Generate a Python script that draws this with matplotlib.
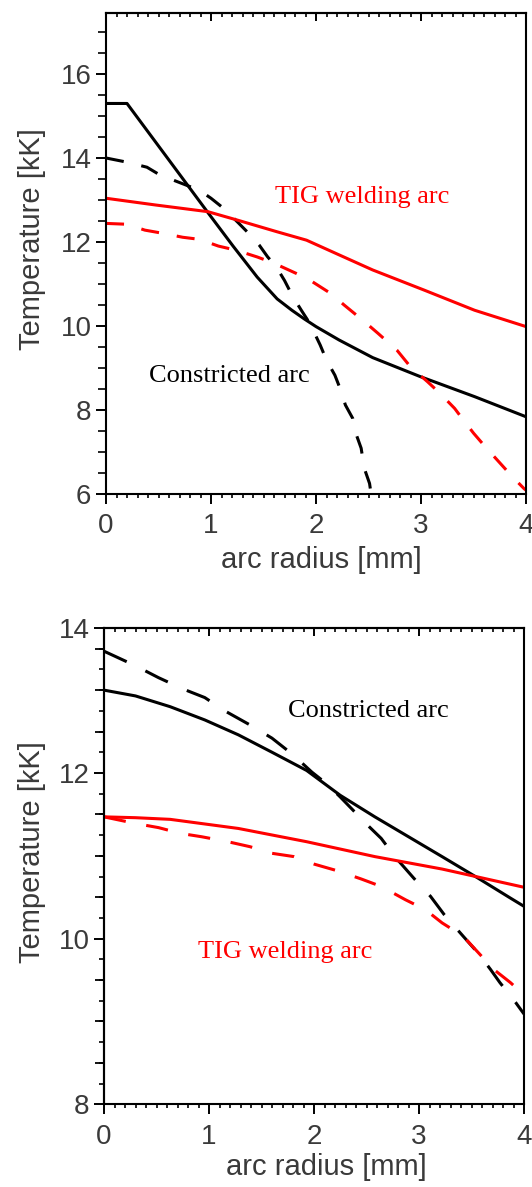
import matplotlib
matplotlib.use("Agg")
import matplotlib.pyplot as plt
from matplotlib.ticker import MultipleLocator, FixedLocator, FixedFormatter, NullFormatter

plt.rcParams["lines.scale_dashes"] = False
plt.rcParams["font.family"] = ["Liberation Sans", "DejaVu Sans"]

# ---------------- data: top panel ----------------
top_bs_r = [0, 0.2, 0.97, 1.21, 1.44, 1.63, 1.77, 1.89, 2.0, 2.22, 2.54, 2.99, 3.51, 4.0]
top_bs_T = [15.3, 15.3, 12.7, 11.9, 11.16, 10.64, 10.37, 10.16, 9.98, 9.66, 9.24, 8.79, 8.31, 7.83]

top_bd_r = [0, 0.2, 0.39, 0.51, 0.89, 1.0, 1.12, 1.25, 1.36, 1.46, 1.54, 1.62, 1.70,
            1.78, 1.86, 1.94, 2.04, 2.10, 2.18, 2.23, 2.28, 2.35, 2.38, 2.43, 2.46, 2.51, 2.53]
top_bd_T = [14.0, 13.9, 13.78, 13.6, 13.23, 13.04, 12.8, 12.48, 12.2, 11.92, 11.64, 11.41, 11.08,
            10.69, 10.37, 10.06, 9.54, 9.18, 8.82, 8.5, 8.11, 7.79, 7.43, 7.08, 6.6, 6.24, 5.9]

top_rs_r = [0, 0.47, 0.97, 1.25, 1.63, 1.91, 2.22, 2.54, 3.03, 3.51, 4.0]
top_rs_T = [13.04, 12.88, 12.72, 12.52, 12.24, 12.04, 11.69, 11.33, 10.85, 10.37, 9.98]

top_rd_r = [0, 0.2, 0.37, 0.55, 0.73, 0.89, 1.07, 1.24, 1.44, 1.6, 1.81, 1.94, 2.14, 2.27,
            2.46, 2.59, 2.77, 2.9, 3.06, 3.18, 3.32, 3.38, 3.5, 3.61, 3.74, 3.87, 3.98, 4.0]
top_rd_T = [12.44, 12.42, 12.28, 12.2, 12.11, 12.06, 11.9, 11.8, 11.64, 11.49, 11.25, 11.09, 10.77, 10.49,
            10.1, 9.82, 9.42, 9.02, 8.67, 8.39, 8.03, 7.83, 7.44, 7.12, 6.76, 6.4, 6.12, 6.08]

# ---------------- data: bottom panel ----------------
bot_bs_r = [0, 0.3, 0.63, 0.96, 1.28, 1.6, 1.93, 2.25, 2.58, 2.9, 3.22, 3.55, 3.87, 4.0]
bot_bs_T = [13.0, 12.93, 12.8, 12.64, 12.46, 12.25, 12.03, 11.73, 11.47, 11.23, 10.99, 10.74, 10.49, 10.39]

bot_bd_r = [0, 0.29, 0.52, 0.76, 0.96, 1.15, 1.39, 1.6, 1.8, 1.98, 2.12, 2.25, 2.51, 2.64,
            2.77, 2.95, 3.11, 3.24, 3.42, 3.56, 3.68, 3.77, 3.92, 4.0]
bot_bd_T = [13.47, 13.3, 13.15, 13.01, 12.91, 12.75, 12.58, 12.42, 12.22, 12.01, 11.87, 11.71, 11.37, 11.21,
            10.99, 10.73, 10.51, 10.29, 10.03, 9.83, 9.63, 9.47, 9.23, 9.09]

bot_rs_r = [0, 0.3, 0.63, 1.28, 1.93, 2.58, 3.22, 4.0]
bot_rs_T = [11.47, 11.46, 11.44, 11.33, 11.17, 10.99, 10.84, 10.62]

bot_rd_r = [0, 0.3, 0.52, 0.73, 0.93, 1.18, 1.39, 1.6, 1.81, 2.0, 2.22, 2.45, 2.64, 2.87,
            3.06, 3.22, 3.42, 3.58, 3.71, 3.87, 4.0]
bot_rd_T = [11.47, 11.39, 11.34, 11.27, 11.23, 11.17, 11.11, 11.03, 10.99, 10.9, 10.82, 10.72, 10.63, 10.47,
            10.35, 10.19, 10.03, 9.81, 9.63, 9.47, 9.32]

x_ticks = [0, 1, 2, 3, 4]
top_y_ticks = [6, 8, 10, 12, 14, 16]
bot_y_ticks = [8, 10, 12, 13.75]
bot_y_labels = ["8", "10", "12", "14"]
bot_y_mid = [8.5, 9, 9.5, 10.5, 11, 11.5, 12.5, 13, 13.5]

xlabel = "arc radius [mm]"
ylabel = "Temperature [kK]"
lab_tig = "TIG welding arc"
lab_con = "Constricted arc"

TXT = "#3a3a3a"
RED = "#ff0000"
LW = 2.2
SERIF = ["Liberation Serif", "DejaVu Serif"]

fig = plt.figure(figsize=(5.32, 11.87), dpi=100)
ax1 = fig.add_axes([106 / 532, 1 - 493.5 / 1187, 420 / 532, 480.2 / 1187])
ax2 = fig.add_axes([104 / 532, 1 - 1104.3 / 1187, 420 / 532, 476.3 / 1187])


def style(ax):
    for s in ax.spines.values():
        s.set_linewidth(1.5)
    ax.set_xlim(0, 4)
    ax.xaxis.set_major_locator(FixedLocator(x_ticks))
    ax.xaxis.set_minor_locator(MultipleLocator(0.1))
    ax.tick_params(axis="x", which="major", direction="out", length=7, width=1.4,
                   pad=7, labelsize=20, labelcolor=TXT)
    ax.tick_params(axis="x", which="minor", direction="out", length=3.2, width=1.2)
    ax.tick_params(axis="y", which="major", direction="out", length=7.5, width=1.4,
                   pad=3, labelsize=20, labelcolor=TXT)
    ax.tick_params(right=False, top=False)
    sec = ax.secondary_xaxis("top")
    sec.spines["top"].set_linewidth(1.5)
    sec.xaxis.set_major_locator(FixedLocator(x_ticks))
    sec.xaxis.set_minor_locator(MultipleLocator(0.1))
    sec.xaxis.set_major_formatter(NullFormatter())
    sec.tick_params(axis="x", which="major", direction="in", length=6, width=1.4)
    sec.tick_params(axis="x", which="minor", direction="in", length=3.2, width=1.2)


# ---------- top ----------
style(ax1)
ax1.set_ylim(6, 17.45)
ax1.yaxis.set_major_locator(FixedLocator(top_y_ticks))
ax1.yaxis.set_minor_locator(MultipleLocator(0.5))
ax1.tick_params(axis="y", which="minor", direction="out", length=5.5, width=1.2)
ax1.plot(top_bs_r, top_bs_T, color="black", lw=LW, solid_capstyle="butt")
ax1.plot(top_bd_r, top_bd_T, color="black", lw=LW, dashes=(13, 13), dash_capstyle="butt")
ax1.plot(top_rs_r, top_rs_T, color=RED, lw=LW)
ax1.plot(top_rd_r, top_rd_T, color=RED, lw=LW, dashes=(13, 13), dash_capstyle="butt")
ax1.text(1.614, 12.92, lab_tig, color=RED, fontsize=19, family=SERIF, ha="left", va="baseline")
ax1.text(0.406, 8.665, lab_con, color="black", fontsize=19, family=SERIF, ha="left", va="baseline")
ax1.set_xlabel(xlabel, fontsize=21, color=TXT, va="center")
ax1.xaxis.set_label_coords(0.512, -0.1385)
ax1.set_ylabel(ylabel, fontsize=21, color=TXT, va="center")
ax1.yaxis.set_label_coords(-0.176, 0.53)

# ---------- bottom ----------
style(ax2)
ax2.set_ylim(8, 13.75)
ax2.yaxis.set_major_locator(FixedLocator(bot_y_ticks))
ax2.yaxis.set_major_formatter(FixedFormatter(bot_y_labels))
ax2.yaxis.set_minor_locator(MultipleLocator(0.25))
ax2.tick_params(axis="y", which="minor", direction="out", length=3.5, width=1.2)
secy = ax2.secondary_yaxis("left")
secy.spines["left"].set_linewidth(1.5)
secy.yaxis.set_major_locator(FixedLocator(bot_y_mid))
secy.yaxis.set_major_formatter(NullFormatter())
secy.yaxis.set_minor_locator(FixedLocator([]))
secy.tick_params(axis="y", which="major", direction="out", length=6.5, width=1.3)

ax2.plot(bot_bs_r, bot_bs_T, color="black", lw=LW)
ax2.plot(bot_bd_r, bot_bd_T, color="black", lw=LW, dashes=(18, 15), dash_capstyle="butt")
ax2.plot(bot_rs_r, bot_rs_T, color=RED, lw=LW)
ax2.plot(bot_rd_r, bot_rd_T, color=RED, lw=LW, dashes=(16, 15), dash_capstyle="butt")
ax2.text(1.756, 12.67, lab_con, color="black", fontsize=19, family=SERIF, ha="left", va="baseline")
ax2.text(0.898, 9.765, lab_tig, color=RED, fontsize=19, family=SERIF, ha="left", va="baseline")
ax2.set_xlabel(xlabel, fontsize=21, color=TXT, va="center")
ax2.xaxis.set_label_coords(0.53, -0.132)
ax2.set_ylabel(ylabel, fontsize=21, color=TXT, va="center")
ax2.yaxis.set_label_coords(-0.171, 0.53)

fig.savefig("out.png", dpi=100)
